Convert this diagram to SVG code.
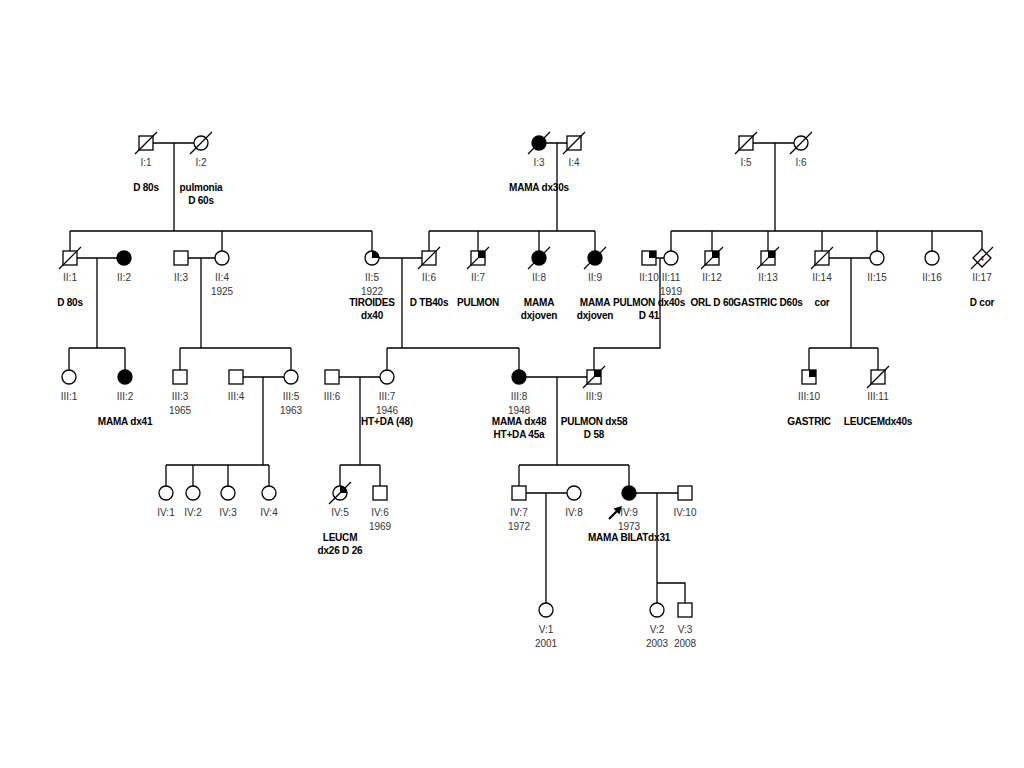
<svg xmlns="http://www.w3.org/2000/svg" xmlns:xlink="http://www.w3.org/1999/xlink" width="1024" height="768" viewBox="0 0 1024 768">
<style>
.ln{stroke:#000;stroke-width:1.3;fill:none}
.s{fill:#fff;stroke:#000;stroke-width:1.3}
.f{fill:#000;stroke:#000;stroke-width:1.3}
.q{fill:#000;stroke:none}
.d{stroke:#000;stroke-width:1.2}
text{font-family:"Liberation Sans",Arial,sans-serif;font-size:10px;text-anchor:middle}
.id{fill:#333}
.b{font-weight:bold;letter-spacing:-0.2px;fill:#000}
</style>
<defs>
<rect id="sq" x="-7" y="-7" width="14" height="14" class="s"/>
<rect id="sqf" x="-7" y="-7" width="14" height="14" class="f"/>
<circle id="ci" r="7" class="s"/>
<circle id="cif" r="7" class="f"/>
<rect id="qs" x="0" y="-7" width="7" height="7" class="q"/>
<path id="qc" d="M0,0 L0,-7 A7,7 0 0 1 7,0 Z" class="q"/>
<line id="sl" x1="-11" y1="11" x2="11" y2="-11" class="d"/>
</defs>
<rect width="1024" height="768" fill="#fff"/>

<g id="connectors">
<!-- Gen I couples and descents -->
<path class="ln" d="M153,143H194 M174,143V231 M546,143H567 M557,143V231 M753,143H794 M775,143V231"/>
<!-- Gen I sibships -->
<path class="ln" d="M70,231H372 M70,231V251 M222,231V251 M372,231V251"/>
<path class="ln" d="M429,231H595 M429,231V251 M478,231V251 M539,231V251 M595,231V251"/>
<path class="ln" d="M671,231H982 M671,231V251 M712,231V251 M768,231V251 M822,231V251 M877,231V251 M932,231V251 M982,231V249"/>
<!-- Gen II couples -->
<path class="ln" d="M77,258H117 M97,258V348 M188,258H215 M201,258V348 M379,258H422 M402,258V348 M656,258H664 M660,258V348H594V370 M829,258H870 M851,258V348"/>
<!-- Gen II sibships -->
<path class="ln" d="M69,348H125 M69,348V370 M125,348V370 M180,348H291 M180,348V370 M291,348V370 M387,348H519 M387,348V370 M519,348V370 M809,348H878 M809,348V370 M878,348V370"/>
<!-- Gen III couples -->
<path class="ln" d="M243,377H284 M263,377V465 M339,377H380 M360,377V465 M526,377H587 M557,377V465"/>
<!-- Gen III sibships -->
<path class="ln" d="M166,465H269 M166,465V486 M193,465V486 M228,465V486 M269,465V486 M340,465H380 M340,465V486 M380,465V486 M519,465H629 M519,465V486 M629,465V486"/>
<!-- Gen IV couples -->
<path class="ln" d="M526,493H567 M546,493V603 M636,493H678 M657,493V603 M657,583H685V603"/>
</g>

<!-- Generation I -->
<g id="I-1" transform="translate(146,143)"><use xlink:href="#sq"/><use xlink:href="#sl"/><text class="id" y="23">I:1</text><text class="b" y="48">D 80s</text></g>
<g id="I-2" transform="translate(201,143)"><use xlink:href="#ci"/><use xlink:href="#sl"/><text class="id" y="23">I:2</text><text class="b" y="48">pulmonia</text><text class="b" y="61">D 60s</text></g>
<g id="I-3" transform="translate(539,143)"><use xlink:href="#cif"/><use xlink:href="#sl"/><text class="id" y="23">I:3</text><text class="b" y="48">MAMA dx30s</text></g>
<g id="I-4" transform="translate(574,143)"><use xlink:href="#sq"/><use xlink:href="#sl"/><text class="id" y="23">I:4</text></g>
<g id="I-5" transform="translate(746,143)"><use xlink:href="#sq"/><use xlink:href="#sl"/><text class="id" y="23">I:5</text></g>
<g id="I-6" transform="translate(801,143)"><use xlink:href="#ci"/><use xlink:href="#sl"/><text class="id" y="23">I:6</text></g>

<!-- Generation II -->
<g id="II-1" transform="translate(70,258)"><use xlink:href="#sq"/><use xlink:href="#sl"/><text class="id" y="23">II:1</text><text class="b" y="48">D 80s</text></g>
<g id="II-2" transform="translate(124,258)"><use xlink:href="#cif"/><text class="id" y="23">II:2</text></g>
<g id="II-3" transform="translate(181,258)"><use xlink:href="#sq"/><text class="id" y="23">II:3</text></g>
<g id="II-4" transform="translate(222,258)"><use xlink:href="#ci"/><text class="id" y="23">II:4</text><text class="id" y="37">1925</text></g>
<g id="II-5" transform="translate(372,258)"><use xlink:href="#ci"/><use xlink:href="#qc"/><text class="id" y="23">II:5</text><text class="id" y="37">1922</text><text class="b" y="48">TIROIDES</text><text class="b" y="61">dx40</text></g>
<g id="II-6" transform="translate(429,258)"><use xlink:href="#sq"/><use xlink:href="#sl"/><text class="id" y="23">II:6</text><text class="b" y="48">D TB40s</text></g>
<g id="II-7" transform="translate(478,258)"><use xlink:href="#sq"/><use xlink:href="#qs"/><use xlink:href="#sl"/><text class="id" y="23">II:7</text><text class="b" y="48">PULMON</text></g>
<g id="II-8" transform="translate(539,258)"><use xlink:href="#cif"/><use xlink:href="#sl"/><text class="id" y="23">II:8</text><text class="b" y="48">MAMA</text><text class="b" y="61">dxjoven</text></g>
<g id="II-9" transform="translate(595,258)"><use xlink:href="#cif"/><use xlink:href="#sl"/><text class="id" y="23">II:9</text><text class="b" y="48">MAMA</text><text class="b" y="61">dxjoven</text></g>
<g id="II-10" transform="translate(649,258)"><use xlink:href="#sq"/><use xlink:href="#qs"/><text class="id" y="23">II:10</text><text class="b" y="48">PULMON dx40s</text><text class="b" y="61">D 41</text></g>
<g id="II-11" transform="translate(671,258)"><use xlink:href="#ci"/><text class="id" y="23">II:11</text><text class="id" y="37">1919</text></g>
<g id="II-12" transform="translate(712,258)"><use xlink:href="#sq"/><use xlink:href="#qs"/><use xlink:href="#sl"/><text class="id" y="23">II:12</text><text class="b" y="48">ORL D 60</text></g>
<g id="II-13" transform="translate(768,258)"><use xlink:href="#sq"/><use xlink:href="#qs"/><use xlink:href="#sl"/><text class="id" y="23">II:13</text><text class="b" y="48">GASTRIC D60s</text></g>
<g id="II-14" transform="translate(822,258)"><use xlink:href="#sq"/><use xlink:href="#sl"/><text class="id" y="23">II:14</text><text class="b" y="48">cor</text></g>
<g id="II-15" transform="translate(877,258)"><use xlink:href="#ci"/><text class="id" y="23">II:15</text></g>
<g id="II-16" transform="translate(932,258)"><use xlink:href="#ci"/><text class="id" y="23">II:16</text></g>
<g id="II-17" transform="translate(982,258)"><path d="M0,-9 L9,0 L0,9 L-9,0 Z" class="s"/><text y="3" style="font-size:7px">4</text><use xlink:href="#sl"/><text class="id" y="23">II:17</text><text class="b" y="48">D cor</text></g>

<!-- Generation III -->
<g id="III-1" transform="translate(69,377)"><use xlink:href="#ci"/><text class="id" y="23">III:1</text></g>
<g id="III-2" transform="translate(125,377)"><use xlink:href="#cif"/><text class="id" y="23">III:2</text><text class="b" y="48">MAMA dx41</text></g>
<g id="III-3" transform="translate(180,377)"><use xlink:href="#sq"/><text class="id" y="23">III:3</text><text class="id" y="37">1965</text></g>
<g id="III-4" transform="translate(236,377)"><use xlink:href="#sq"/><text class="id" y="23">III:4</text></g>
<g id="III-5" transform="translate(291,377)"><use xlink:href="#ci"/><text class="id" y="23">III:5</text><text class="id" y="37">1963</text></g>
<g id="III-6" transform="translate(332,377)"><use xlink:href="#sq"/><text class="id" y="23">III:6</text></g>
<g id="III-7" transform="translate(387,377)"><use xlink:href="#ci"/><text class="id" y="23">III:7</text><text class="id" y="37">1946</text><text class="b" y="48">HT+DA (48)</text></g>
<g id="III-8" transform="translate(519,377)"><use xlink:href="#cif"/><text class="id" y="23">III:8</text><text class="id" y="37">1948</text><text class="b" y="48">MAMA dx48</text><text class="b" y="61">HT+DA 45a</text></g>
<g id="III-9" transform="translate(594,377)"><use xlink:href="#sq"/><use xlink:href="#qs"/><use xlink:href="#sl"/><text class="id" y="23">III:9</text><text class="b" y="48">PULMON dx58</text><text class="b" y="61">D 58</text></g>
<g id="III-10" transform="translate(809,377)"><use xlink:href="#sq"/><use xlink:href="#qs"/><text class="id" y="23">III:10</text><text class="b" y="48">GASTRIC</text></g>
<g id="III-11" transform="translate(878,377)"><use xlink:href="#sq"/><use xlink:href="#sl"/><text class="id" y="23">III:11</text><text class="b" y="48">LEUCEMdx40s</text></g>

<!-- Generation IV -->
<g id="IV-1" transform="translate(166,493)"><use xlink:href="#ci"/><text class="id" y="23">IV:1</text></g>
<g id="IV-2" transform="translate(193,493)"><use xlink:href="#ci"/><text class="id" y="23">IV:2</text></g>
<g id="IV-3" transform="translate(228,493)"><use xlink:href="#ci"/><text class="id" y="23">IV:3</text></g>
<g id="IV-4" transform="translate(269,493)"><use xlink:href="#ci"/><text class="id" y="23">IV:4</text></g>
<g id="IV-5" transform="translate(340,493)"><use xlink:href="#ci"/><use xlink:href="#qc"/><use xlink:href="#sl"/><text class="id" y="23">IV:5</text><text class="b" y="48">LEUCM</text><text class="b" y="61">dx26 D 26</text></g>
<g id="IV-6" transform="translate(380,493)"><use xlink:href="#sq"/><text class="id" y="23">IV:6</text><text class="id" y="37">1969</text></g>
<g id="IV-7" transform="translate(519,493)"><use xlink:href="#sq"/><text class="id" y="23">IV:7</text><text class="id" y="37">1972</text></g>
<g id="IV-8" transform="translate(574,493)"><use xlink:href="#ci"/><text class="id" y="23">IV:8</text></g>
<g id="IV-9" transform="translate(629,493)"><use xlink:href="#cif"/><text class="id" y="23">IV:9</text><text class="id" y="37">1973</text><text class="b" y="48">MAMA BILATdx31</text>
<line x1="-20" y1="26" x2="-11" y2="17" stroke="#000" stroke-width="2.2"/><polygon points="-7,13 -15.5,15.5 -9.5,21.5" fill="#000"/></g>
<g id="IV-10" transform="translate(685,493)"><use xlink:href="#sq"/><text class="id" y="23">IV:10</text></g>

<!-- Generation V -->
<g id="V-1" transform="translate(546,610)"><use xlink:href="#ci"/><text class="id" y="23">V:1</text><text class="id" y="37">2001</text></g>
<g id="V-2" transform="translate(657,610)"><use xlink:href="#ci"/><text class="id" y="23">V:2</text><text class="id" y="37">2003</text></g>
<g id="V-3" transform="translate(685,610)"><use xlink:href="#sq"/><text class="id" y="23">V:3</text><text class="id" y="37">2008</text></g>
</svg>
